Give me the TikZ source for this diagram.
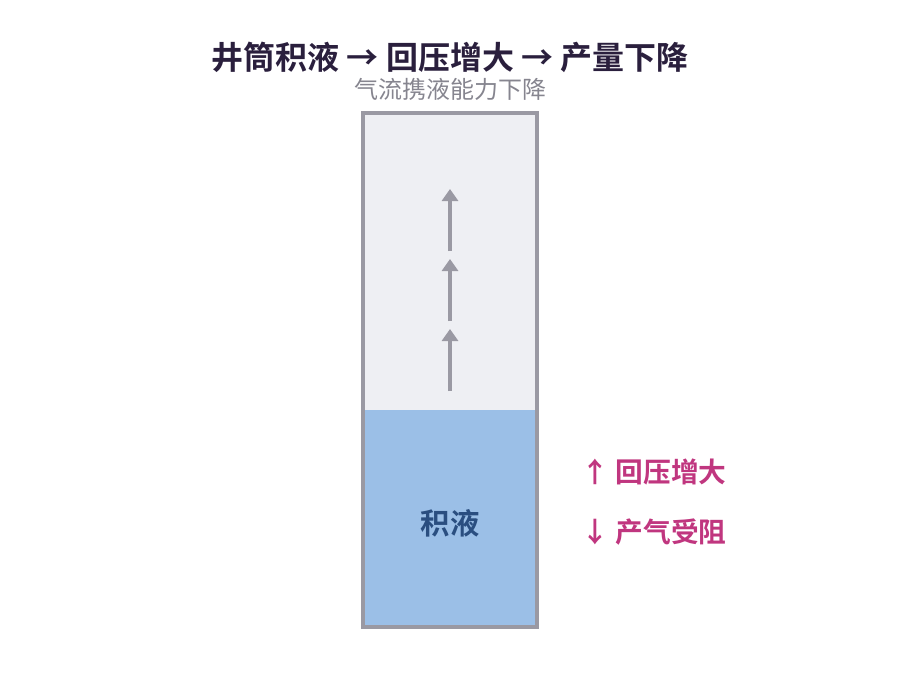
\documentclass[tikz,border=0pt]{standalone}
\usepackage{fontspec}
\setmainfont{Noto Sans CJK SC}
\newfontfamily\cjkbold{Noto Sans CJK SC Bold}
\usetikzlibrary{arrows.meta}
\definecolor{titlecol}{HTML}{2A1F3D}
\definecolor{subcol}{HTML}{86858F}
\definecolor{wallcol}{HTML}{9A99A3}
\definecolor{gascol}{HTML}{EEEFF3}
\definecolor{liqcol}{HTML}{9BBFE7}
\definecolor{liqtext}{HTML}{2A4E80}
\definecolor{effcol}{HTML}{C0367F}

\begin{document}
\begin{tikzpicture}[x=0.75pt,y=-0.75pt,
  flow/.style={draw=wallcol,line width=3pt,-{Triangle[length=9pt,width=12pt]}},
  effect/.style={anchor=west,text=effcol,font=\cjkbold\fontsize{20.8pt}{25pt}\selectfont}]
\useasboundingbox (0,0) rectangle (900,700);
% titles
\node (title) at (450,57) [text=titlecol,font=\cjkbold\fontsize{24pt}{28pt}\selectfont] {井筒积液 → 回压增大 → 产量下降};
\node (sub) at (450,89) [text=subcol,font=\fontsize{18pt}{22pt}\selectfont] {气流携液能力下降};
% wellbore
\fill[gascol] (363,113) rectangle (537,410);
\fill[liqcol] (363,410) rectangle (537,627);
\draw[wallcol,line width=3pt] (363,113) rectangle (537,627);
\node (liquid) at (450,523) [text=liqtext,font=\cjkbold\fontsize{22pt}{26pt}\selectfont] {积液};
% gas flow
\foreach \i/\y in {1/391,2/321,3/251} {
  \coordinate (f\i a) at (450,\y);
  \coordinate (f\i b) at (450,\y-62);
  \draw[flow] (f\i a) -- (f\i b);
}
% effects
\node (up) at (577,472) [effect] {↑ 回压增大};
\node (down) at (577,532) [effect] {↓ 产气受阻};
\end{tikzpicture}
\end{document}
